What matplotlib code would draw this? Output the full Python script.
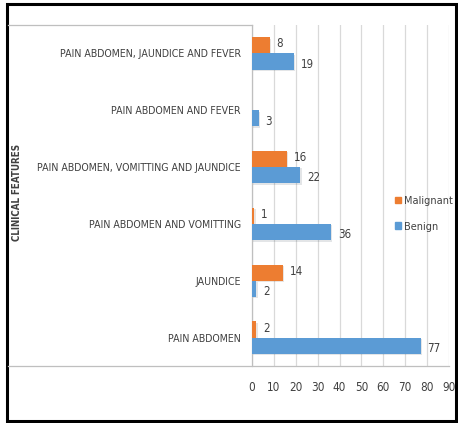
import numpy as np
import matplotlib
matplotlib.use("Agg")
import matplotlib.pyplot as plt
import matplotlib.patheffects as pe
from matplotlib.lines import Line2D
from matplotlib.patches import Rectangle

plt.rcParams["font.family"] = ["DejaVu Sans"]
plt.rcParams["font.stretch"] = "condensed"

# Clinical features, listed bottom to top
features = [
    "PAIN ABDOMEN",
    "JAUNDICE",
    "PAIN ABDOMEN AND VOMITTING",
    "PAIN ABDOMEN, VOMITTING AND JAUNDICE",
    "PAIN ABDOMEN AND FEVER",
    "PAIN ABDOMEN, JAUNDICE AND FEVER",
]
benign = [77, 2, 36, 22, 3, 19]
malignant = [2, 14, 1, 16, 0, 8]
x_ticks = [0, 10, 20, 30, 40, 50, 60, 70, 80, 90]

BLUE = "#5b9bd5"
ORANGE = "#ed7d31"
GRID = "#d9d9d9"
AXIS = "#bfbfbf"
TEXT = "#404040"

W, H = 458, 423
fig = plt.figure(figsize=(W / 100, H / 100), dpi=100)
ax = fig.add_axes([252 / W, 1 - 366 / H, 197 / W, 341 / H])

y = np.arange(len(features))
bh = 0.285
shadow = [pe.SimplePatchShadow(offset=(1, -1), alpha=0.12), pe.Normal()]
mal_bars = ax.barh(y + bh / 2, malignant, height=bh, color=ORANGE, zorder=3)
ben_bars = ax.barh(y - bh / 2, benign, height=bh, color=BLUE, zorder=3)
for b in list(mal_bars) + list(ben_bars):
    b.set_path_effects(shadow)

# value labels at the bar ends (no label for the empty malignant bar)
for yi, v in zip(y, malignant):
    if v > 0:
        ax.annotate(str(v), (v, yi + bh / 2), xytext=(5, 1), textcoords="offset points",
                    va="center", ha="left", fontsize=8.3, color=TEXT)
for yi, v in zip(y, benign):
    ax.annotate(str(v), (v, yi - bh / 2), xytext=(5, -2), textcoords="offset points",
                va="center", ha="left", fontsize=8.3, color=TEXT)

ax.set_xlim(0, 90)
ax.set_ylim(-0.5, len(features) - 0.5)
ax.set_xticks(x_ticks)
ax.set_yticks(y)
ax.set_yticklabels(features, fontsize=7.6, color=TEXT)
ax.tick_params(axis="x", length=0, pad=11, labelsize=8.4, labelcolor=TEXT)
ax.tick_params(axis="y", length=0, pad=8)
ax.grid(True, axis="x", color=GRID, linewidth=0.9, zorder=0)
for s in ["top", "right", "bottom"]:
    ax.spines[s].set_visible(False)
ax.spines["left"].set_color(AXIS)
ax.spines["left"].set_linewidth(0.9)
ax.set_axisbelow(True)

ax.legend([Rectangle((0, 0), 1, 1, color=ORANGE), Rectangle((0, 0), 1, 1, color=BLUE)],
          ["Malignant", "Benign"], loc="upper left", bbox_to_anchor=(1 - 59 / 197, 0.515),
          frameon=False, fontsize=7.8, handlelength=0.5, handleheight=0.55,
          handletextpad=0.3, labelspacing=1.45, borderpad=0, labelcolor=TEXT)

fig.text(17 / W, 1 - 192 / H, "CLINICAL FEATURES", rotation=90, ha="center", va="center",
         fontsize=7, fontweight="bold", color=TEXT)

# light frame lines around the category area
fig.add_artist(Line2D([8 / W, 252 / W], [1 - 25 / H, 1 - 25 / H], color=AXIS, lw=0.9))
fig.add_artist(Line2D([8 / W, 449 / W], [1 - 366 / H, 1 - 366 / H], color=AXIS, lw=0.9))

# black outer border
fig.add_artist(Rectangle((6.5 / W, 2.5 / H), 449.5 / W, 416 / H, transform=fig.transFigure,
                         fill=False, edgecolor="black", lw=2.2))

fig.savefig("out.png", dpi=100)
